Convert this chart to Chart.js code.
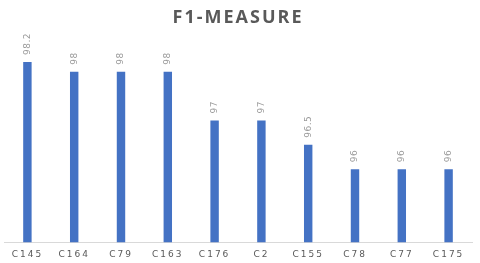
<!DOCTYPE html>
<html><head><meta charset="utf-8">
<script src="https://cdn.jsdelivr.net/npm/chart.js@4/dist/chart.umd.min.js"></script>
<style>html,body{margin:0;padding:0;background:#fff}canvas{display:block}</style>
</head><body>
<canvas id="c" width="480" height="263"></canvas>
<script>
const categories = ["C145","C164","C79","C163","C176","C2","C155","C78","C77","C175"];
const f1Values = [98.2, 98, 98, 98, 97, 97, 96.5, 96, 96, 96];
const valueLabels = ["98.2","98","98","98","97","97","96.5","96","96","96"];
const chartTitle = "F1-MEASURE";

const spacingPlugin = {
  id: 'spacing',
  beforeDraw(chart) { chart.ctx.letterSpacing = '2px'; }
};
const valueLabelPlugin = {
  id: 'valueLabels',
  afterDatasetsDraw(chart) {
    const ctx = chart.ctx;
    const meta = chart.getDatasetMeta(0);
    ctx.save();
    ctx.letterSpacing = '0.5px';
    ctx.font = '9px "DejaVu Sans", sans-serif';
    ctx.fillStyle = '#9a9a9a';
    ctx.textAlign = 'left';
    ctx.textBaseline = 'middle';
    meta.data.forEach((bar, i) => {
      ctx.save();
      ctx.translate(bar.x, bar.y - 7);
      ctx.rotate(-Math.PI / 2);
      ctx.fillText(valueLabels[i], 0, 0);
      ctx.restore();
    });
    ctx.restore();
  }
};

new Chart(document.getElementById('c'), {
  type: 'bar',
  data: {
    labels: categories,
    datasets: [{
      data: f1Values,
      backgroundColor: '#4472C4',
      categoryPercentage: 1,
      barPercentage: 0.18
    }]
  },
  options: {
    responsive: false,
    animation: false,
    layout: { padding: { left: 4, right: 8, top: 0, bottom: -4 } },
    plugins: {
      legend: { display: false },
      tooltip: { enabled: false },
      title: {
        display: true,
        text: chartTitle,
        color: '#595959',
        font: { family: '"Open Sans", sans-serif', size: 18, weight: 'bold' },
        padding: { top: 7, bottom: 12 }
      }
    },
    scales: {
      x: {
        grid: { display: false, drawTicks: false, tickLength: 0 },
        border: { display: true, color: '#d9d9d9' },
        ticks: { color: '#595959', font: { family: '"DejaVu Sans", sans-serif', size: 9 }, padding: 7, maxRotation: 0 }
      },
      y: {
        display: false,
        min: 94.5,
        max: 98.64
      }
    }
  },
  plugins: [spacingPlugin, valueLabelPlugin]
});
</script>
</body></html>
